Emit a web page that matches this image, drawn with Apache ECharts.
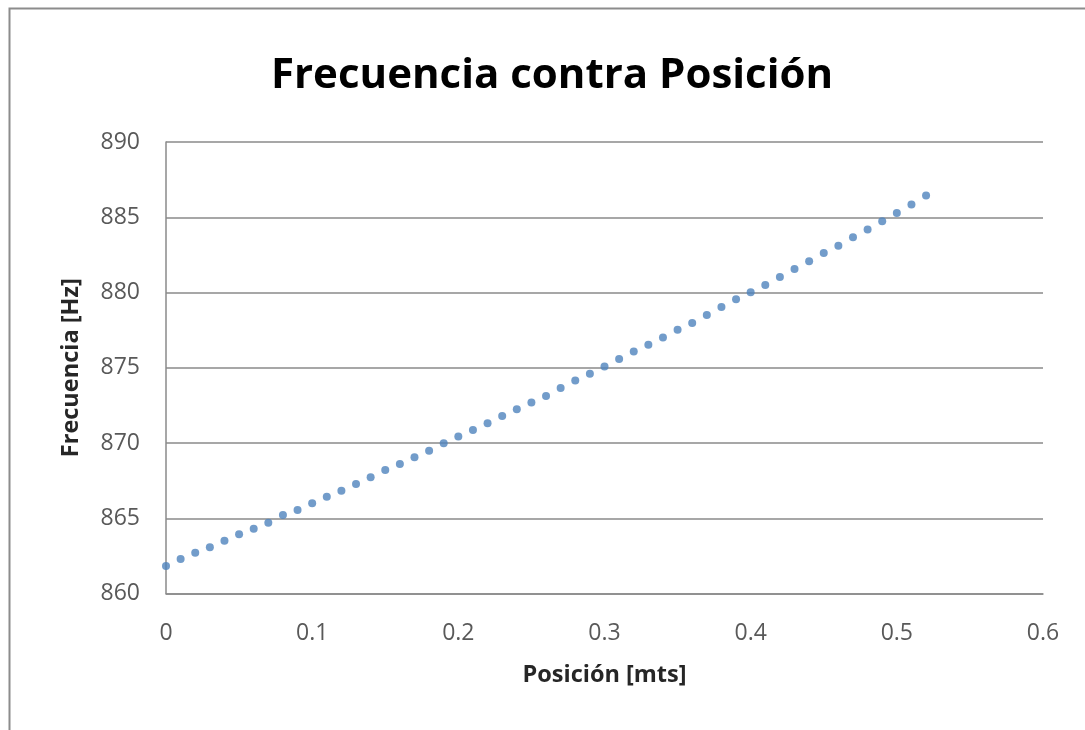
<!DOCTYPE html>
<html>
<head>
<meta charset="utf-8">
<title>Frecuencia contra Posición</title>
<script src="https://cdn.jsdelivr.net/npm/echarts@6/dist/echarts.min.js"></script>
<style>
  html, body { margin: 0; padding: 0; background: #ffffff; }
  #chart { width: 1085px; height: 730px; }
</style>
</head>
<body>
<div id="chart"></div>
<script>
// Measured positions along the track (metres)
const posicion = [
  0.00, 0.01, 0.02, 0.03, 0.04, 0.05, 0.06, 0.07, 0.08, 0.09,
  0.10, 0.11, 0.12, 0.13, 0.14, 0.15, 0.16, 0.17, 0.18, 0.19,
  0.20, 0.21, 0.22, 0.23, 0.24, 0.25, 0.26, 0.27, 0.28, 0.29,
  0.30, 0.31, 0.32, 0.33, 0.34, 0.35, 0.36, 0.37, 0.38, 0.39,
  0.40, 0.41, 0.42, 0.43, 0.44, 0.45, 0.46, 0.47, 0.48, 0.49,
  0.50, 0.51, 0.52
];

// Frequency recorded at each position (Hz)
const frecuencia = [
  861.82, 862.29, 862.71, 863.07, 863.51, 863.93, 864.30, 864.70, 865.22, 865.55,
  866.00, 866.43, 866.83, 867.28, 867.72, 868.21, 868.61, 869.06, 869.49, 869.99,
  870.43, 870.87, 871.32, 871.80, 872.25, 872.69, 873.13, 873.65, 874.15, 874.60,
  875.08, 875.58, 876.08, 876.53, 877.01, 877.53, 877.97, 878.50, 879.04, 879.55,
  880.01, 880.50, 881.03, 881.56, 882.07, 882.63, 883.11, 883.67, 884.18, 884.73,
  885.29, 885.84, 886.44
];

// Axis tick labels
const xTicks = ['0', '0.1', '0.2', '0.3', '0.4', '0.5', '0.6'];
const yTicks = ['860', '865', '870', '875', '880', '885', '890'];

const titulo = 'Frecuencia contra Posición';
const ejeX = 'Posición [mts]';
const ejeY = 'Frecuencia [Hz]';

const puntos = posicion.map((x, i) => [x, frecuencia[i]]);

const FONT = '"Open Sans", "Noto Sans", sans-serif';
const GRID_COLOR = '#8a8a8a';
const LABEL_COLOR = '#595959';

const chart = echarts.init(document.getElementById('chart'), null, { renderer: 'canvas' });

chart.setOption({
  backgroundColor: '#ffffff',
  animation: false,
  title: {
    text: titulo,
    left: 266,
    top: 50,
    textStyle: {
      fontFamily: FONT,
      fontSize: 42,
      fontWeight: 'bold',
      color: '#000000'
    }
  },
  graphic: [
    {
      // chart frame (top and left edges inside the view)
      type: 'polyline',
      silent: true,
      shape: { points: [[9.5, 740], [9.5, 8.5], [1090, 8.5]] },
      style: { stroke: '#8c8c8c', lineWidth: 2, fill: null }
    }
  ],
  grid: {
    left: 166,
    top: 142,
    width: 877,
    height: 451.5,
    containLabel: false
  },
  xAxis: {
    type: 'value',
    min: 0,
    max: 0.6,
    interval: 0.1,
    name: ejeX,
    nameLocation: 'middle',
    nameGap: 70,
    nameTextStyle: {
      fontFamily: FONT,
      fontSize: 23.5,
      fontWeight: 'bold',
      color: '#262626'
    },
    axisLine: { show: true, lineStyle: { color: GRID_COLOR, width: 1.5 } },
    axisTick: { show: false },
    splitLine: { show: false },
    axisLabel: {
      margin: 28,
      fontFamily: FONT,
      fontSize: 23,
      color: LABEL_COLOR,
      formatter: (v) => xTicks[Math.round(v * 10)]
    }
  },
  yAxis: {
    type: 'value',
    min: 860,
    max: 890,
    interval: 5,
    name: ejeY,
    nameLocation: 'middle',
    nameGap: 83,
    nameTextStyle: {
      fontFamily: FONT,
      fontSize: 23.5,
      fontWeight: 'bold',
      color: '#262626'
    },
    axisLine: { show: true, lineStyle: { color: GRID_COLOR, width: 1.5 } },
    axisTick: { show: false },
    splitLine: { show: true, lineStyle: { color: GRID_COLOR, width: 1.5 } },
    axisLabel: {
      margin: 26,
      fontFamily: FONT,
      fontSize: 23,
      color: LABEL_COLOR,
      formatter: (v) => yTicks[Math.round((v - 860) / 5)]
    }
  },
  series: [
    {
      type: 'scatter',
      data: puntos,
      symbol: 'circle',
      symbolSize: 8,
      itemStyle: { color: '#4f83bd' },
      silent: true
    }
  ]
});
</script>
</body>
</html>
